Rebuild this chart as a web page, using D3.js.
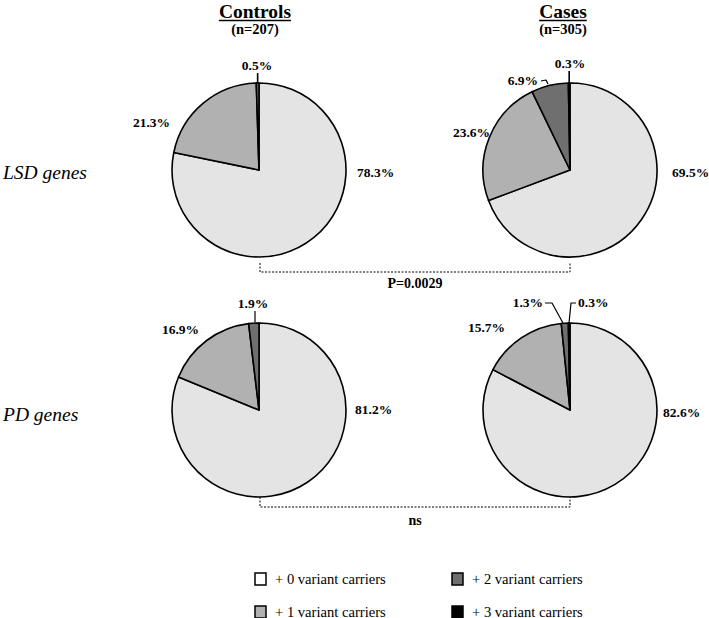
<!DOCTYPE html>
<html>
<head>
<meta charset="utf-8">
<script src="https://cdn.jsdelivr.net/npm/d3@7"></script>
<style>
  html, body { margin: 0; padding: 0; background: #fff; }
  svg { display: block; }
  svg text { font-family: 'Liberation Serif', Tinos, 'Times New Roman', Times, serif; }
</style>
</head>
<body>
<svg id="chart" width="709" height="618"></svg>
<script>
// ---------- data ----------
const groups = ["Controls", "Cases"];
const groupN = ["(n=207)", "(n=305)"];
const geneSets = ["LSD genes", "PD genes"];
const categories = ["+ 0 variant carriers", "+ 1 variant carriers", "+ 2 variant carriers", "+ 3 variant carriers"];
const lsdControls = [78.3, 21.3, 0.5, 0];
const lsdCases    = [69.5, 23.6, 6.9, 0.3];
const pdControls  = [81.2, 16.9, 1.9, 0];
const pdCases     = [82.6, 15.7, 1.3, 0.3];
const pLabels = ["P=0.0029", "ns"];

// ---------- layout ----------
const FONT = "'Liberation Serif', Tinos, 'Times New Roman', Times, serif";
const svg = d3.select("#chart");
const root = svg.append("g").attr("font-family", FONT);
const pieColor = d3.scaleOrdinal().domain(categories).range(["#e4e4e4", "#b1b1b1", "#6f6f6f", "#000000"]);
const legendColor = d3.scaleOrdinal().domain(categories).range(["#ffffff", "#b1b1b1", "#6f6f6f", "#000000"]);
const xCenter = d3.scaleOrdinal().domain(groups).range([259, 570]);
const yCenter = d3.scaleOrdinal().domain(geneSets).range([170, 410]);
const R = 87;

const pie = d3.pie().sort(null).value(d => d.v);
const arc = d3.arc().innerRadius(0).outerRadius(R);

const pies = [
  {g: "Controls", s: "LSD genes", vals: lsdControls,
   labels: [
     {i: 0, x: 98, y: 7, a: "start"},
     {i: 1, x: -89, y: -43, a: "end"},
     {i: 2, x: -2, y: -100, a: "middle", leader: "vert"}
   ]},
  {g: "Cases", s: "LSD genes", vals: lsdCases,
   labels: [
     {i: 0, x: 102, y: 7, a: "start"},
     {i: 1, x: -80, y: -33, a: "end"},
     {i: 2, x: -32, y: -85, a: "end", leader: [[-29, -89], [-24, -90], [-22, -86]]},
     {i: 3, x: 0, y: -102, a: "middle", leader: "vert"}
   ]},
  {g: "Controls", s: "PD genes", vals: pdControls,
   labels: [
     {i: 0, x: 96, y: 4, a: "start"},
     {i: 1, x: -60, y: -76, a: "end"},
     {i: 2, x: -6, y: -102, a: "middle", leader: [[-4, -99], [-4, -88]]}
   ]},
  {g: "Cases", s: "PD genes", vals: pdCases,
   labels: [
     {i: 0, x: 93, y: 7, a: "start"},
     {i: 1, x: -65, y: -78, a: "end"},
     {i: 2, x: -27, y: -103, a: "end", leader: [[-25, -107], [-18, -107], [-7, -87]]},
     {i: 3, x: 8, y: -103, a: "start", leader: [[6, -107], [1, -107], [-1, -87]]}
   ]}
];

pies.forEach(p => {
  const cx = xCenter(p.g), cy = yCenter(p.s);
  const data = pie(p.vals.map((v, i) => ({v, c: categories[i]})));
  const g = root.append("g").attr("transform", `translate(${cx},${cy})`);
  g.selectAll("path.slice").data(data.filter(d => d.data.v > 0)).join("path")
    .attr("class", "slice")
    .attr("d", arc)
    .attr("fill", d => pieColor(d.data.c))
    .attr("stroke", "#000")
    .attr("stroke-width", 1.6)
    .attr("stroke-linejoin", "round");
  p.labels.forEach(l => {
    const d = data[l.i];
    g.append("text")
      .attr("x", l.x).attr("y", l.y)
      .attr("text-anchor", l.a)
      .attr("font-size", 13.5).attr("font-weight", "bold")
      .text(d.data.v.toFixed(1) + "%");
    if (l.leader === "vert") {
      const mid = (d.startAngle + d.endAngle) / 2;
      const ex = R * Math.sin(mid), ey = -R * Math.cos(mid);
      g.append("line").attr("x1", ex).attr("x2", ex).attr("y1", l.y + 3).attr("y2", ey)
        .attr("stroke", "#000").attr("stroke-width", 1.6);
    } else if (l.leader) {
      g.append("path").attr("d", d3.line()(l.leader))
        .attr("fill", "none").attr("stroke", "#000").attr("stroke-width", 1.2)
        .attr("stroke-linejoin", "round");
    }
  });
});

// ---------- titles ----------
const titleX = d3.scaleOrdinal().domain(groups).range([255, 563]);
groups.forEach((gname, i) => {
  const t = root.append("text").attr("x", titleX(gname)).attr("y", 17.5)
    .attr("text-anchor", "middle").attr("font-size", 19.5).attr("font-weight", "bold")
    .text(gname);
  const w = t.node().getComputedTextLength();
  root.append("line").attr("x1", titleX(gname) - w / 2).attr("x2", titleX(gname) + w / 2)
    .attr("y1", 20.5).attr("y2", 20.5).attr("stroke", "#000").attr("stroke-width", 1.3);
  root.append("text").attr("x", titleX(gname)).attr("y", 34)
    .attr("text-anchor", "middle").attr("font-size", 14.5).attr("font-weight", "bold")
    .text(groupN[i]);
});

// ---------- row labels ----------
const rowBase = d3.scaleOrdinal().domain(geneSets).range([179, 421]);
geneSets.forEach(s => {
  root.append("text").attr("x", 3).attr("y", rowBase(s))
    .attr("font-size", 19.5).attr("font-style", "italic")
    .text(s);
});

// ---------- brackets ----------
const brackets = [{y: 272, top: 263, ty: 288}, {y: 507, top: 497, ty: 525}];
brackets.forEach((b, i) => {
  const x1 = xCenter(groups[0]) + 1, x2 = xCenter(groups[1]);
  root.append("path")
    .attr("d", `M${x1},${b.top}V${b.y}H${x2}V${b.top}`)
    .attr("fill", "none").attr("stroke", "#000").attr("stroke-width", 1)
    .attr("stroke-dasharray", "2,1.5");
  root.append("text").attr("x", (x1 + x2) / 2).attr("y", b.ty)
    .attr("text-anchor", "middle").attr("font-size", 14).attr("font-weight", "bold")
    .text(pLabels[i]);
});

// ---------- legend ----------
const legX = [255, 452], legY = [573, 606];
categories.forEach((c, i) => {
  const col = Math.floor(i / 2), row = i % 2;
  const lg = root.append("g").attr("transform", `translate(${legX[col]},${legY[row]})`);
  lg.append("rect").attr("x", 0).attr("y", 0).attr("width", 11).attr("height", 12)
    .attr("fill", legendColor(c)).attr("stroke", "#000").attr("stroke-width", 1.5);
  lg.append("text").attr("x", 20).attr("y", 10.5).attr("font-size", 14.6).text(c);
});
</script>
</body>
</html>
